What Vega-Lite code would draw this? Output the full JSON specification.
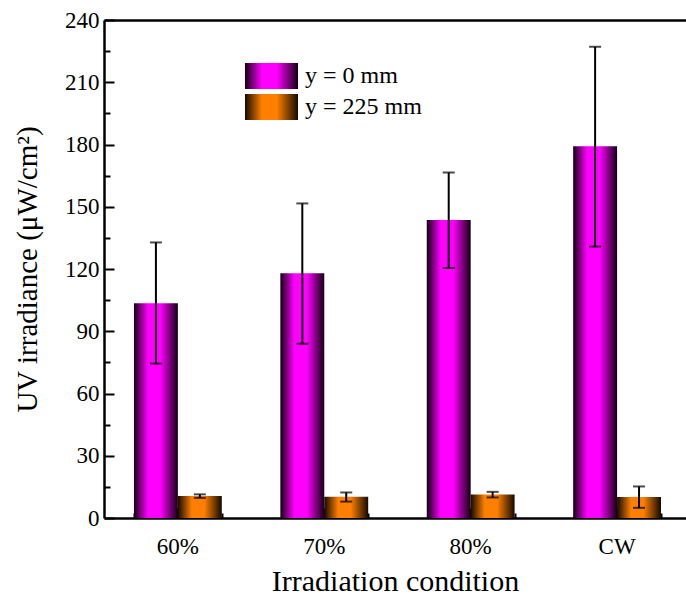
{
  "$schema": "https://vega.github.io/schema/vega-lite/v6.json",
  "width": 582,
  "height": 498,
  "autosize": {"type": "none"},
  "padding": {"left": 104, "top": 20, "right": 0, "bottom": 78},
  "background": "white",
  "config": {
    "font": "Liberation Serif",
    "view": {"stroke": null},
    "axis": {
      "domainColor": "black",
      "tickColor": "black",
      "labelColor": "black",
      "titleColor": "black",
      "titleFontWeight": "normal",
      "labelFont": "Liberation Serif",
      "titleFont": "Liberation Serif",
      "grid": false
    },
    "legend": {
      "symbolType": "M-2.04,-1H2.04V1H-2.04Z",
      "symbolSize": 676,
      "symbolStrokeWidth": 0,
      "labelFontSize": 24,
      "labelFont": "Liberation Serif",
      "labelColor": "black",
      "labelOffset": 20.5,
      "padding": 0
    }
  },
  "data": {
    "values": [
      {"condition": "60%", "series": "y = 0 mm", "value": 103.5, "lo": 74.4, "hi": 132.8},
      {"condition": "70%", "series": "y = 0 mm", "value": 117.9, "lo": 84.0, "hi": 151.6},
      {"condition": "80%", "series": "y = 0 mm", "value": 143.6, "lo": 120.5, "hi": 166.5},
      {"condition": "CW", "series": "y = 0 mm", "value": 179.2, "lo": 130.8, "hi": 227.1},
      {"condition": "60%", "series": "y = 225 mm", "value": 10.6, "lo": 9.7, "hi": 11.4},
      {"condition": "70%", "series": "y = 225 mm", "value": 10.2, "lo": 7.9, "hi": 12.3},
      {"condition": "80%", "series": "y = 225 mm", "value": 11.3, "lo": 9.9, "hi": 12.6},
      {"condition": "CW", "series": "y = 225 mm", "value": 10.1, "lo": 4.9, "hi": 15.2}
    ]
  },
  "layer": [
    {
      "transform": [{"filter": "datum.series === 'y = 0 mm'"}],
      "mark": {
        "type": "bar", "stroke": null,
        "fill": {"gradient": "linear", "x1": 0, "y1": 0, "x2": 1, "y2": 0, "stops": [{"offset": 0, "color": "#120012"}, {"offset": 0.32, "color": "#ff00ff"}, {"offset": 0.6, "color": "#ff00ff"}, {"offset": 1, "color": "#120012"}]}
      },
      "encoding": {
        "x": {
          "field": "condition", "type": "nominal", "sort": ["60%", "70%", "80%", "CW"],
          "scale": {"domain": ["60%", "70%", "80%", "CW"], "paddingInner": 0.4, "paddingOuter": 0.1877, "align": 0.545},
          "axis": {
            "orient": "bottom", "title": "Irradiation condition", "labelAngle": 0,
            "tickSize": -10, "tickWidth": 2.5, "domainWidth": 2.5,
            "labelFontSize": 23, "titleFontSize": 30, "labelPadding": 27, "titlePadding": 8
          }
        },
        "xOffset": {"field": "series", "type": "nominal", "scale": {"domain": ["y = 0 mm", "y = 225 mm"], "paddingInner": 0, "paddingOuter": 0}},
        "y": {
          "field": "value", "type": "quantitative",
          "scale": {"domain": [0, 240], "nice": false, "zero": true},
          "axis": {
            "title": "UV irradiance (μW/cm²)",
            "values": [0, 15, 30, 45, 60, 75, 90, 105, 120, 135, 150, 165, 180, 195, 210, 225, 240],
            "labelExpr": "datum.value % 30 === 0 ? datum.label : ''",
            "tickSize": {"condition": {"test": "datum.value % 30 === 0", "value": -10}, "value": -6},
            "tickWidth": 2, "domainWidth": 2.5,
            "labelFontSize": 23, "titleFontSize": 29, "labelPadding": 15, "titlePadding": 22
          }
        },
        "opacity": {
          "field": "series", "type": "nominal",
          "scale": {"domain": ["y = 0 mm"], "range": [1]},
          "legend": {"orient": "none", "legendX": 154.5, "legendY": 43, "title": null}
        }
      }
    },
    {
      "transform": [{"filter": "datum.series === 'y = 225 mm'"}],
      "mark": {
        "type": "bar", "stroke": null,
        "fill": {"gradient": "linear", "x1": 0, "y1": 0, "x2": 1, "y2": 0, "stops": [{"offset": 0, "color": "#140900"}, {"offset": 0.32, "color": "#ff8000"}, {"offset": 0.6, "color": "#ff8000"}, {"offset": 1, "color": "#140900"}]}
      },
      "encoding": {
        "x": {
          "field": "condition", "type": "nominal", "sort": ["60%", "70%", "80%", "CW"],
          "axis": {
            "orient": "bottom", "title": null, "labels": false, "domain": false,
            "tickBand": "extent", "tickSize": -5, "tickWidth": 2
          }
        },
        "xOffset": {"field": "series", "type": "nominal"},
        "y": {
          "field": "value", "type": "quantitative",
          "axis": {
            "title": "UV irradiance (μW/cm²)",
            "values": [0, 15, 30, 45, 60, 75, 90, 105, 120, 135, 150, 165, 180, 195, 210, 225, 240],
            "labelExpr": "datum.value % 30 === 0 ? datum.label : ''",
            "tickSize": {"condition": {"test": "datum.value % 30 === 0", "value": -10}, "value": -6},
            "tickWidth": 2, "domainWidth": 2.5,
            "labelFontSize": 23, "titleFontSize": 29, "labelPadding": 15, "titlePadding": 22
          }
        },
        "opacity": {
          "field": "series", "type": "nominal",
          "scale": {"domain": ["y = 225 mm"], "range": [1]},
          "legend": {"orient": "none", "legendX": 154.5, "legendY": 74, "title": null}
        }
      }
    },
    {
      "mark": {"type": "rule", "color": "black", "strokeWidth": 2},
      "encoding": {
        "x": {
          "field": "condition", "type": "nominal", "sort": ["60%", "70%", "80%", "CW"],
          "axis": {"orient": "top", "title": null, "labels": false, "ticks": false, "domain": true, "domainWidth": 2.5}
        },
        "xOffset": {"field": "series", "type": "nominal"},
        "y": {
          "field": "lo", "type": "quantitative",
          "axis": {
            "title": "UV irradiance (μW/cm²)",
            "values": [0, 15, 30, 45, 60, 75, 90, 105, 120, 135, 150, 165, 180, 195, 210, 225, 240],
            "labelExpr": "datum.value % 30 === 0 ? datum.label : ''",
            "tickSize": {"condition": {"test": "datum.value % 30 === 0", "value": -10}, "value": -6},
            "tickWidth": 2, "domainWidth": 2.5,
            "labelFontSize": 23, "titleFontSize": 29, "labelPadding": 15, "titlePadding": 22
          }
        },
        "y2": {"field": "hi"}
      }
    },
    {
      "mark": {"type": "tick", "color": "black", "size": 12, "thickness": 2},
      "encoding": {
        "x": {"field": "condition", "type": "nominal", "sort": ["60%", "70%", "80%", "CW"], "axis": null},
        "xOffset": {"field": "series", "type": "nominal"},
        "y": {
          "field": "lo", "type": "quantitative",
          "axis": {
            "title": "UV irradiance (μW/cm²)",
            "values": [0, 15, 30, 45, 60, 75, 90, 105, 120, 135, 150, 165, 180, 195, 210, 225, 240],
            "labelExpr": "datum.value % 30 === 0 ? datum.label : ''",
            "tickSize": {"condition": {"test": "datum.value % 30 === 0", "value": -10}, "value": -6},
            "tickWidth": 2, "domainWidth": 2.5,
            "labelFontSize": 23, "titleFontSize": 29, "labelPadding": 15, "titlePadding": 22
          }
        }
      }
    },
    {
      "mark": {"type": "tick", "color": "black", "size": 12, "thickness": 2},
      "encoding": {
        "x": {"field": "condition", "type": "nominal", "sort": ["60%", "70%", "80%", "CW"], "axis": null},
        "xOffset": {"field": "series", "type": "nominal"},
        "y": {
          "field": "hi", "type": "quantitative",
          "axis": {
            "title": "UV irradiance (μW/cm²)",
            "values": [0, 15, 30, 45, 60, 75, 90, 105, 120, 135, 150, 165, 180, 195, 210, 225, 240],
            "labelExpr": "datum.value % 30 === 0 ? datum.label : ''",
            "tickSize": {"condition": {"test": "datum.value % 30 === 0", "value": -10}, "value": -6},
            "tickWidth": 2, "domainWidth": 2.5,
            "labelFontSize": 23, "titleFontSize": 29, "labelPadding": 15, "titlePadding": 22
          }
        }
      }
    }
  ],
  "resolve": {
    "axis": {"x": "independent"},
    "scale": {"opacity": "independent"},
    "legend": {"opacity": "independent"}
  }
}
